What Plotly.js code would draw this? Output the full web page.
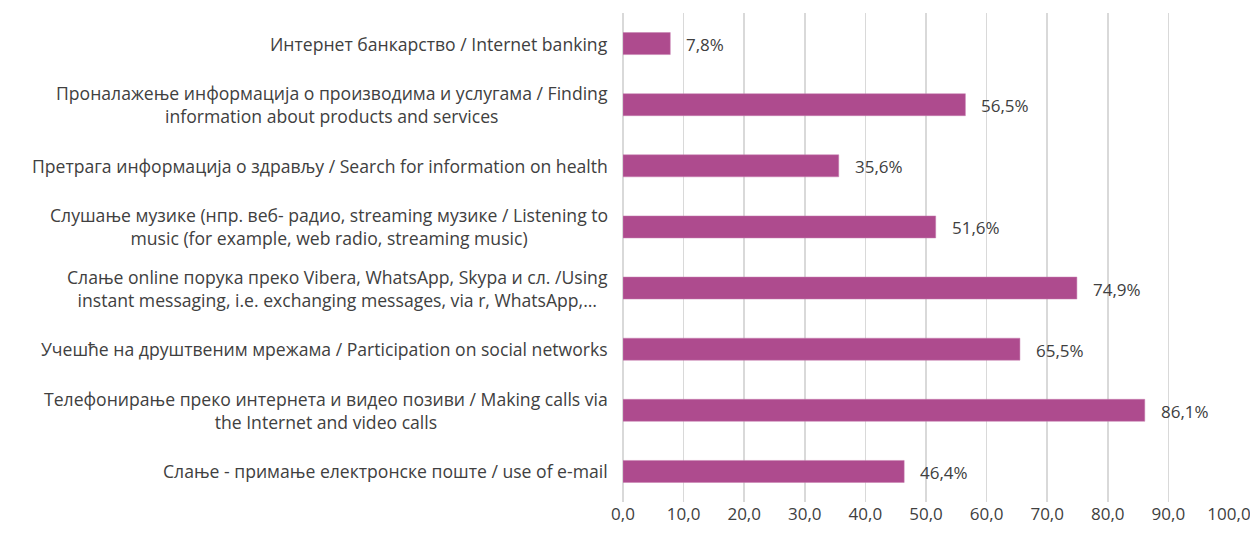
<!DOCTYPE html>
<html>
<head>
<meta charset="utf-8">
<script src="https://cdn.plot.ly/plotly-3.0.1.min.js"></script>
<style>html,body{margin:0;padding:0;background:#fff;}#chart{width:1250px;height:533px;}</style>
</head>
<body>
<div id="chart"></div>
<script>
const categories = [
  "Интернет банкарство / Internet banking",
  "Проналажење информација о производима и услугама / Finding<br>information about products and services",
  "Претрага информација о здрављу / Search for information on health",
  "Слушање музике (нпр. веб- радио, streaming музике / Listening to<br>music (for example, web radio, streaming music)",
  "Слање online порука преко Vibera, WhatsApp, Skypa и сл. /Using<br>instant messaging, i.e. exchanging messages, via r, WhatsApp,…",
  "Учешће на друштвеним мрежама / Participation on social networks",
  "Телефонирање преко интернета и видео позиви / Making calls via<br>the Internet and video calls",
  "Слање - примање електронске поште / use of e-mail"
];
const values = [7.8, 56.5, 35.6, 51.6, 74.9, 65.5, 86.1, 46.4];
const tickVals = [0, 10, 20, 30, 40, 50, 60, 70, 80, 90, 100];
const tickText = ["0,0","10,0","20,0","30,0","40,0","50,0","60,0","70,0","80,0","90,0","100,0"];

const ids = categories.map((c, i) => "c" + i);
const fontFamily = "'Open Sans', sans-serif";
const textColor = "#404040";

const labelAnns = categories.map((c, i) => ({
  text: c, xref: "paper", yref: "y", x: 0, y: ids[i],
  xanchor: "right", yanchor: "middle", align: "center", xshift: -13,
  showarrow: false, font: {family: fontFamily, size: 17.6, color: textColor}
}));
const valueAnns = values.map((v, i) => ({
  text: v.toFixed(1).replace(".", ",") + "%", xref: "x", yref: "y", x: v, y: ids[i],
  xanchor: "left", yanchor: "middle", xshift: 14, yshift: -1,
  showarrow: false, font: {family: fontFamily, size: 17, color: textColor}
}));

Plotly.newPlot("chart", [{
  type: "bar", orientation: "h", x: values, y: ids,
  marker: {color: "#ae4b8e", line: {color: "#c77fb0", width: 0.5}},
  hoverinfo: "none"
}], {
  width: 1250, height: 533,
  margin: {l: 623, r: 21, t: 13, b: 31},
  paper_bgcolor: "#fff", plot_bgcolor: "#fff",
  bargap: 0.64, showlegend: false,
  xaxis: {range: [0, 100], tickvals: tickVals, ticktext: tickText,
    showgrid: true, gridcolor: "#d9d9d9", gridwidth: 1.5,
    zeroline: true, zerolinecolor: "#d9d9d9", zerolinewidth: 1.5,
    showline: false, ticks: "", ticklen: 0, ticklabeloverflow: "allow",
    tickfont: {family: fontFamily, size: 17, color: textColor}},
  yaxis: {autorange: "reversed", showticklabels: false, showgrid: false,
    zeroline: false, showline: false, ticks: ""},
  annotations: labelAnns.concat(valueAnns)
}, {staticPlot: true});
</script>
</body>
</html>
